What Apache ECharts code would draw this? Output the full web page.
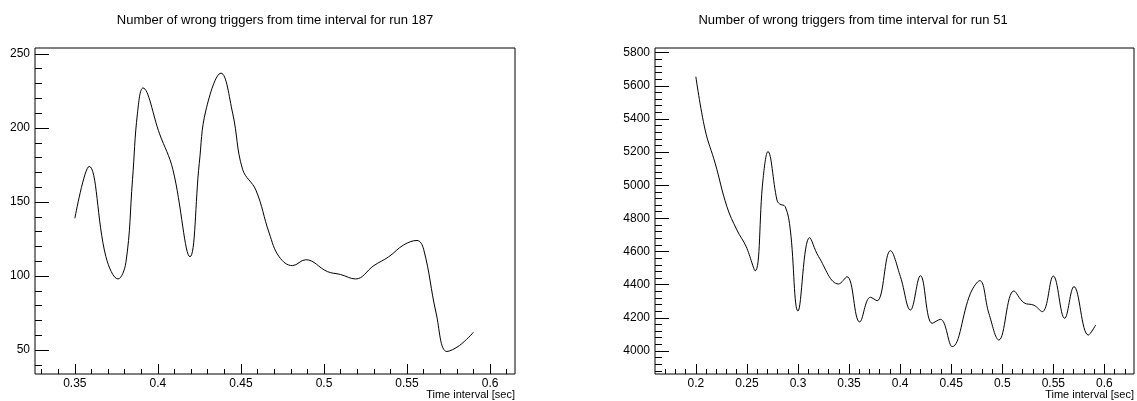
<!DOCTYPE html>
<html>
<head>
<meta charset="utf-8">
<script src="https://cdn.jsdelivr.net/npm/echarts@6/dist/echarts.min.js"></script>
<style>
  html, body { margin: 0; padding: 0; background: #fff; }
  #main { width: 1137px; height: 401px; }
</style>
</head>
<body>
<div id="main"></div>
<script>
// run 187 (left)
var x187 = [0.350, 0.3586, 0.3687, 0.376, 0.3807, 0.3847, 0.3877, 0.391, 0.401, 0.409, 0.4193, 0.4249, 0.4289, 0.438,
    0.445, 0.451, 0.459, 0.467, 0.473, 0.481, 0.489, 0.502, 0.510, 0.519, 0.530, 0.539, 0.548, 0.556, 0.560, 0.5675,
    0.574, 0.5815, 0.590];
var y187 = [139, 174, 113, 98, 109, 165, 210, 227, 196, 172, 113, 176, 212, 237,
    210, 172, 158, 129, 113, 107, 111, 103, 101, 98, 107, 113, 121, 124, 118, 75,
    49, 53, 62];

// run 51 (right)
var x51 = [0.200, 0.2091, 0.2189, 0.2304, 0.2402, 0.2493, 0.2581, 0.2657, 0.2706, 0.2794, 0.282, 0.2875, 0.2925,
    0.300, 0.3114, 0.3202, 0.3398, 0.348, 0.3604, 0.3709, 0.3775, 0.3905, 0.4003, 0.4101, 0.4199, 0.4314, 0.4395,
    0.451, 0.4689, 0.478, 0.4869, 0.4967, 0.5114, 0.5212, 0.531, 0.5392, 0.550, 0.5611, 0.5702, 0.5843, 0.5915];
var y51 = [5655, 5333, 5133, 4871, 4730, 4629, 4484, 5032, 5203, 4911, 4887, 4871, 4730,
    4241, 4684, 4569, 4404, 4448, 4175, 4324, 4303, 4605, 4448, 4247, 4454, 4167, 4191,
    4026, 4348, 4424, 4227, 4066, 4362, 4291, 4276, 4237, 4452, 4197, 4388, 4096, 4157];

// tick labels
var xMajor187 = [0.35, 0.4, 0.45, 0.5, 0.55, 0.6];
var xMinor187 = [0.33, 0.34, 0.36, 0.37, 0.38, 0.39, 0.41, 0.42, 0.43, 0.44, 0.46, 0.47, 0.48, 0.49,
    0.51, 0.52, 0.53, 0.54, 0.56, 0.57, 0.58, 0.59, 0.61];
var yMajor187 = [50, 100, 150, 200, 250];
var yMinor187 = [40, 60, 70, 80, 90, 110, 120, 130, 140, 160, 170, 180, 190, 210, 220, 230, 240];

var xMajor51 = [0.2, 0.25, 0.3, 0.35, 0.4, 0.45, 0.5, 0.55, 0.6];
var xMinor51 = [0.17, 0.18, 0.19, 0.21, 0.22, 0.23, 0.24, 0.26, 0.27, 0.28, 0.29, 0.31, 0.32, 0.33, 0.34,
    0.36, 0.37, 0.38, 0.39, 0.41, 0.42, 0.43, 0.44, 0.46, 0.47, 0.48, 0.49, 0.51, 0.52, 0.53, 0.54,
    0.56, 0.57, 0.58, 0.59, 0.61, 0.62];
var yMajor51 = [4000, 4200, 4400, 4600, 4800, 5000, 5200, 5400, 5600, 5800];
var yMinor51 = [3880, 3920, 3960, 4040, 4080, 4120, 4160, 4240, 4280, 4320, 4360, 4440, 4480, 4520, 4560,
    4640, 4680, 4720, 4760, 4840, 4880, 4920, 4960, 5040, 5080, 5120, 5160, 5240, 5280, 5320, 5360,
    5440, 5480, 5520, 5560, 5640, 5680, 5720, 5760];

function pairs(xs, ys) {
    var out = [];
    for (var i = 0; i < xs.length; i++) {
        out.push([xs[i], ys[i]]);
    }
    return out;
}

var fontFam = '"Liberation Sans", Arial, sans-serif';
var labelStyle = { color: '#000', fontSize: 12, fontFamily: fontFam };

function plain(v) {
    return String(+(+v).toFixed(2));
}

function xAx(grid, min, max, major, minor) {
    return [
        {
            type: 'value', gridIndex: grid, min: min, max: max, position: 'bottom',
            axisLine: { show: false },
            splitLine: { show: false },
            axisTick: { show: true, inside: true, length: 10, customValues: major, lineStyle: { color: '#000' } },
            axisLabel: Object.assign({ show: true, margin: 4, customValues: major, formatter: plain }, labelStyle)
        },
        {
            type: 'value', gridIndex: grid, min: min, max: max, position: 'bottom',
            axisLine: { show: false },
            splitLine: { show: false },
            axisTick: { show: true, inside: true, length: 5, customValues: minor, lineStyle: { color: '#000' } },
            axisLabel: { show: false }
        }
    ];
}

function yAx(grid, min, max, major, minor) {
    return [
        {
            type: 'value', gridIndex: grid, min: min, max: max, position: 'left',
            axisLine: { show: false },
            splitLine: { show: false },
            axisTick: { show: true, inside: true, length: 14, customValues: major, lineStyle: { color: '#000' } },
            axisLabel: Object.assign({ show: true, margin: 5, customValues: major, formatter: plain }, labelStyle)
        },
        {
            type: 'value', gridIndex: grid, min: min, max: max, position: 'left',
            axisLine: { show: false },
            splitLine: { show: false },
            axisTick: { show: true, inside: true, length: 7, customValues: minor, lineStyle: { color: '#000' } },
            axisLabel: { show: false }
        }
    ];
}

var titleStyle = { fontSize: 13, fontWeight: 'normal', color: '#000', fontFamily: fontFam };
var nameStyle = { fontSize: 11, fontWeight: 'normal', color: '#000', fontFamily: fontFam };

var chart = echarts.init(document.getElementById('main'));
var option = {
    animation: false,
    backgroundColor: '#fff',
    title: [
        { text: 'Number of wrong triggers from time interval for run 187', left: 275, top: 14, padding: 0, textAlign: 'center', textStyle: titleStyle },
        { text: 'Number of wrong triggers from time interval for run 51', left: 853, top: 14, padding: 0, textAlign: 'center', textStyle: titleStyle },
        { text: 'Time interval [sec]', right: 622, top: 389, padding: 0, textStyle: nameStyle },
        { text: 'Time interval [sec]', right: 3, top: 389, padding: 0, textStyle: nameStyle }
    ],
    grid: [
        { left: 35, top: 48, width: 480, height: 326, show: true, borderColor: '#000', borderWidth: 1, backgroundColor: 'transparent' },
        { left: 655, top: 48, width: 479, height: 326, show: true, borderColor: '#000', borderWidth: 1, backgroundColor: 'transparent' }
    ],
    xAxis: xAx(0, 0.326, 0.615, xMajor187, xMinor187).concat(xAx(1, 0.160, 0.629, xMajor51, xMinor51)),
    yAxis: yAx(0, 33.8, 254, yMajor187, yMinor187).concat(yAx(1, 3861, 5828, yMajor51, yMinor51)),
    series: [
        {
            type: 'line', xAxisIndex: 0, yAxisIndex: 0, data: pairs(x187, y187),
            smooth: 0.4, symbol: 'none', lineStyle: { color: '#000', width: 1 }
        },
        {
            type: 'line', xAxisIndex: 2, yAxisIndex: 2, data: pairs(x51, y51),
            smooth: 0.4, symbol: 'none', lineStyle: { color: '#000', width: 1 }
        }
    ]
};
chart.setOption(option);
</script>
</body>
</html>
